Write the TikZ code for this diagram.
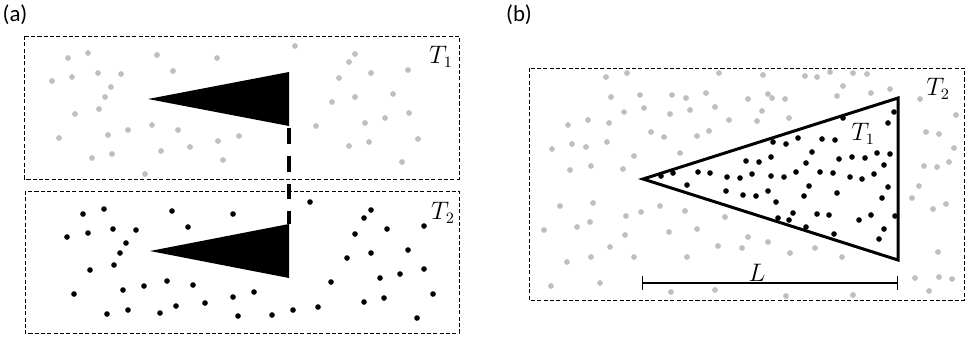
\documentclass[tikz,border=0pt]{standalone}
\usepackage{fontspec}
\newfontfamily\labelfont{Carlito}
\usetikzlibrary{arrows.meta}
\tikzset{
    region/.style={dashed, dash pattern=on 2.3pt off 1.3pt, line width=0.5pt},
    hot/.style={fill=black!25},
    cold/.style={fill=black},
    tlabel/.style={font=\fontsize{13.5}{16}\selectfont},
    plabel/.style={font=\labelfont\fontsize{13}{15}\selectfont}
}
\begin{document}
\begin{tikzpicture}[x=0.02cm, y=-0.02cm]
        \useasboundingbox (0,0) rectangle (972,342);
        % panel labels
            \node[plabel] (pa) at (15,15) {(a)};
            \node[plabel] (pb) at (519,15) {(b)};
        % panel a: boxes
            \draw[region] (24,36) rectangle (459,179);
            \draw[region] (25,191) rectangle (459,333);
            \node[tlabel] (ta1) at (441,57) {$T_1$};
            \node[tlabel] (ta2) at (443,213) {$T_2$};
        % panel a: gas
            \foreach \x/\y in {68/58,88/53,157/55,217/58,295/46,52/81,72/77,98/73,121/74,173/71,
                111/87,105/97,99/109,75/114,332/102,339/78,316/126,59/138,108/135,128/130,
                152/125,178/130,218/141,239/136,92/158,112/154,161/151,190/147,223/160,145/174,
                355/54,349/62,408/70,371/73,393/94,355/97,409/113,385/118,365/123,418/139,
                369/142,349/146,402/162}{
                \fill[hot] (\x,\y) circle[radius=1.65pt];
            }
            \foreach \x/\y in {83/214,104/209,172/211,233/214,67/237,88/233,113/229,136/230,188/227,
                126/243,120/253,90/270,114/265,74/294,123/290,144/286,167/281,193/285,233/297,
                254/292,205/303,176/306,107/314,128/310,160/313,238/316,272/315,293/310,318/307,
                310/202,331/282,371/210,364/218,355/234,387/229,424/226,408/250,371/253,347/258,
                424/269,400/274,380/278,364/302,384/298,433/294,417/318}{
                \fill[cold] (\x,\y) circle[radius=1.6pt];
            }
        % panel a: wedges
            \coordinate (tipa) at (148,99);
            \coordinate (tipb) at (150,251);
            \fill (tipa) -- (289,72) -- (289,126) -- cycle;
            \fill (tipb) -- (289,224) -- (289,278) -- cycle;
            \coordinate (wa) at (289,128);
            \coordinate (wb) at (289,224);
            \draw[line width=2pt, dash pattern=on 9pt off 6.8pt] (wa) -- (wb);
        % panel b: box
            \draw[region] (529,68) rectangle (964,300);
        % panel b: outside gas
            \foreach \x/\y in {606/77,627/73,719/73,763/75,805/76,817/77,830/72,853/73,867/74,843/86,
                890/89,871/93,837/96,920/99,611/97,640/95,672/95,686/98,706/93,748/99,768/94,
                772/98,785/99,624/112,644/108,670/114,690/110,715/107,762/111,789/118,729/120,
                757/121,568/125,588/120,609/123,651/132,664/137,697/136,709/131,552/149,572/144,
                586/147,607/142,634/156,680/153,570/170,591/166,623/169,956/115,926/132,939/134,
                954/148,924/166,937/167,949/162,919/186,912/198,933/209,946/204,560/206,593/203,
                544/230,577/227,590/222,626/216,641/212,660/206,685/211,725/217,567/262,591/257,
                610/247,625/235,634/257,669/232,697/229,687/257,718/246,742/248,748/237,768/242,
                790/253,815/248,842/257,938/252,551/286,600/283,671/292,715/290,786/296,853/295,
                915/278,939/277,952/279,929/291}{
                \fill[hot] (\x,\y) circle[radius=1.65pt];
            }
        % panel b: inside gas
            \foreach \x/\y in {661/176,673/173,698/172,710/173,687/185,727/177,740/178,752/174,771/176,
                784/177,796/172,746/161,759/162,771/157,773/142,786/144,798/138,822/139,835/140,
                843/118,894/112,888/123,812/152,806/163,820/172,833/173,839/159,852/157,865/158,
                877/153,890/154,884/165,850/177,862/179,874/174,809/186,804/196,837/193,888/187,
                882/198,726/191,743/195,756/196,768/191,776/202,793/213,778/218,789/220,817/214,
                829/215,806/227,834/234,859/220,871/215,895/216,884/229,879/239}{
                \fill[cold] (\x,\y) circle[radius=1.6pt];
            }
        % panel b: cone
            \coordinate (apex) at (643,179);
            \coordinate (ctop) at (898,98);
            \coordinate (cbot) at (898,260);
            \draw[line width=1.7pt, line join=miter] (apex) -- (ctop) -- (cbot) -- cycle;
            \node[tlabel] (tb1) at (863,134) {$T_1$};
            \node[tlabel] (tb2) at (938,89) {$T_2$};
        % length
            \coordinate (la) at (642,283);
            \coordinate (lb) at (898,283);
            \draw[line width=0.6pt, {Bar[width=7.5pt]}-{Bar[width=7.5pt]}] (la) -- (lb);
            \node[tlabel] (len) at (757,273) {$L$};
        \end{tikzpicture}
\end{document}
